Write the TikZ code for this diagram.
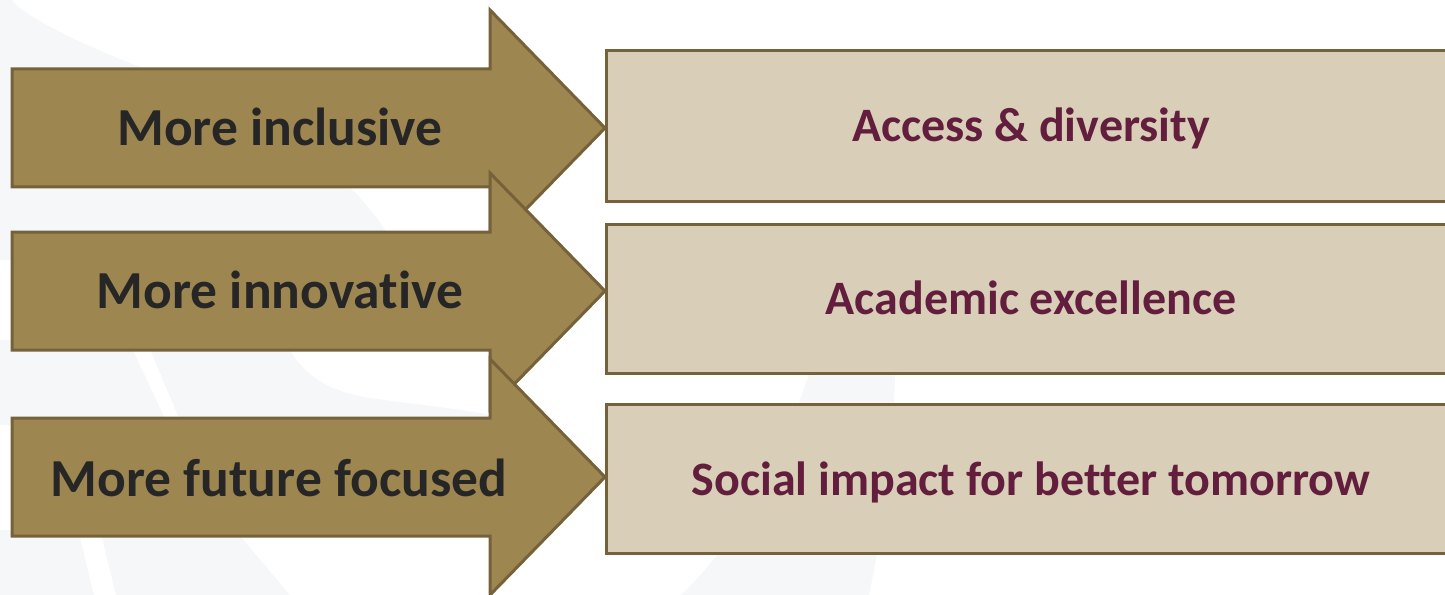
\documentclass[tikz,border=0pt]{standalone}
\usepackage{fontspec}
\setmainfont{Carlito}[Ligatures=NoCommon]
\definecolor{arrowfill}{HTML}{9E8651}
\definecolor{arrowline}{HTML}{76623A}
\definecolor{boxfill}{HTML}{D9CFB8}
\definecolor{darktext}{HTML}{262626}
\definecolor{maroon}{HTML}{631E3E}
\definecolor{watermark}{HTML}{F6F7F9}
\begin{document}
\begin{tikzpicture}[x=1bp,y=-1bp,
  bigarrow/.style={fill=arrowfill,draw=arrowline,line width=3bp,line join=miter},
  goalbox/.style={fill=boxfill,draw=arrowline,line width=3bp},
  arrowlabel/.style={anchor=base,inner sep=0pt,text=darktext,
    font=\bfseries\fontsize{53.5bp}{60bp}\selectfont},
  boxlabel/.style={anchor=base,inner sep=0pt,text=maroon,
    font=\bfseries\fontsize{48bp}{55bp}\selectfont},
  faint/.style={fill=watermark,draw=none}]
\useasboundingbox (0,0) rectangle (1445,595);
\clip (0,0) rectangle (1445,595);

% faint swooshes in the background
\path[faint] (0,0) -- (12,0) .. controls (20,12) and (60,35) .. (130,63)
  .. controls (250,110) and (340,160) .. (385,230) -- (385,260) -- (0,260) -- cycle;
\path[faint] (0,340) -- (128,340) -- (168,425) -- (0,425) -- cycle;
\path[faint] (146,340) -- (285,340) .. controls (300,375) and (330,392) .. (370,398)
  .. controls (420,405) and (470,410) .. (495,416) -- (495,425) -- (182,425) -- cycle;
\path[faint] (0,530) -- (78,530) -- (94,595) -- (0,595) -- cycle;
\path[faint] (100,530) -- (235,530) -- (290,595) -- (116,595) -- cycle;
\path[faint] (812,365) .. controls (790,430) and (760,520) .. (676,600)
  -- (868,600) .. controls (885,520) and (895,430) .. (895,365) -- cycle;

% target boxes on the right
\path[goalbox] (606,51) rectangle (1460,201);
\path[goalbox] (606,224) rectangle (1460,373);
\path[goalbox] (606,404) rectangle (1460,553);

\node[boxlabel] (access) at (1031,142) {Access \& diversity};
\node[boxlabel] (academic) at (1031,314) {Academic excellence};
\node[boxlabel] (social) at (1031,495) {Social impact for better tomorrow};

% block arrows, each drawn over the previous one
\foreach \c in {128,291,477}{
  \path[bigarrow] (12,\c-59) -- (490,\c-59) -- (490,\c-118) -- (605,\c)
    -- (490,\c+118) -- (490,\c+59) -- (12,\c+59) -- cycle;
}

\node[arrowlabel] (inclusive) at (280,146) {More inclusive};
\node[arrowlabel] (innovative) at (280,308) {More innovative};
\node[arrowlabel] (future) at (279,496) {More future focused};
\end{tikzpicture}
\end{document}
